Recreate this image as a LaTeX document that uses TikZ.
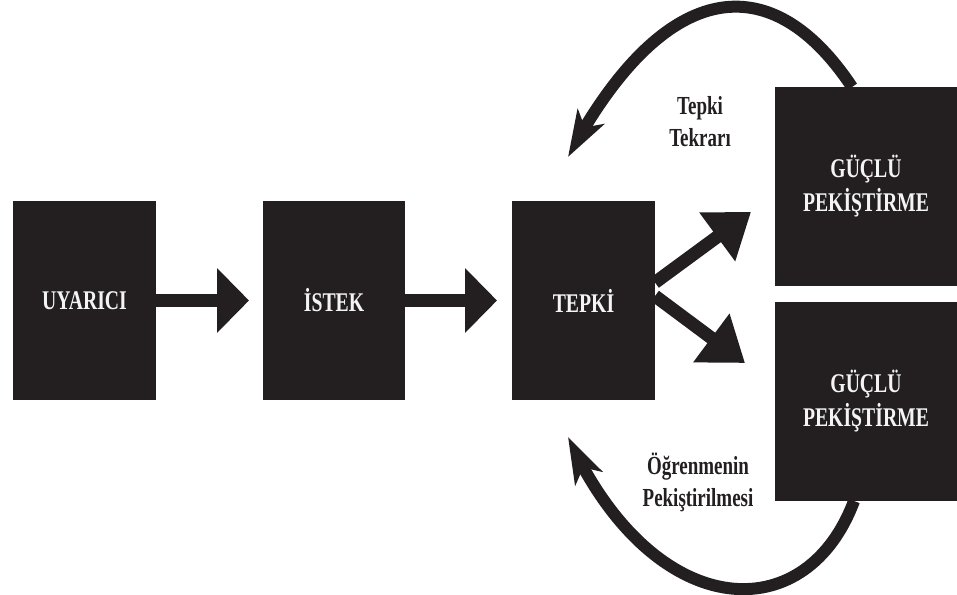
\documentclass[tikz,border=0pt]{standalone}
\usepackage{fontspec}
\setmainfont{Liberation Serif}
\newfontfamily\labfont[FakeStretch=0.73]{Liberation Serif}
\usetikzlibrary{arrows.meta,bending}
\definecolor{ink}{HTML}{231F20}
\definecolor{paper}{HTML}{F4F4F4}

\begin{document}
\begin{tikzpicture}[x=1pt,y=-1pt,
  block/.style={fill=ink, inner sep=0pt, outer sep=0pt, minimum height=199pt,
    text=paper, align=center, font=\labfont\bfseries\fontsize{27}{34}\selectfont},
  caption/.style={text=ink, inner sep=0pt, align=center,
    font=\labfont\bfseries\fontsize{26}{32}\selectfont},
  flow/.style={draw=ink, line width=13pt, -{Triangle[length=32pt,width=63pt]}},
  branch/.style={draw=ink, line width=13pt, -{Triangle[length=42pt,width=58pt]}},
  loop/.style={draw=ink, line width=12pt, -{Stealth[length=46pt,width=30pt,inset=12pt]}}]

  % canvas
  \fill[white] (0,0) rectangle (957,594);
  \useasboundingbox (0,0) rectangle (957,594);

  % main chain
  \node[block, minimum width=143pt] (u) at (84.5,300.5) {UYARICI};
  \node[block, minimum width=142pt] (i) at (334,300.5) {İSTEK};
  \node[block, minimum width=143pt] (t) at (583.5,300.5) {TEPKİ};

  % reinforcement boxes
  \node[block, minimum width=182pt] (g1) at (866,186.5) {GÜÇLÜ\\PEKİŞTİRME};
  \node[block, minimum width=182pt] (g2) at (866,401.5) {GÜÇLÜ\\PEKİŞTİRME};

  % loop captions
  \node[caption] (rep) at (700,122) {Tepki\\Tekrarı};
  \node[caption] (reinf) at (698,482) {Öğrenmenin\\Pekiştirilmesi};

  % straight arrows
  \draw[flow, shorten >=14pt] (u) -- (i);
  \draw[flow, shorten >=15pt] (i) -- (t);

  % branches out of the response
  \coordinate (upTip) at (751,212);
  \coordinate (downTip) at (745,363);
  \draw[branch] ([yshift=18pt]t.east) -- (upTip);
  \draw[branch] ([yshift=4.5pt]t.east) -- (downTip);

  % feedback loops
  \coordinate (topEnd) at (568,157);
  \coordinate (botEnd) at (568,437);
  \draw[loop] ([xshift=-14pt]g1.north) .. controls (769,-38) and (662,-19) .. (topEnd);
  \draw[loop] ([xshift=-12pt]g2.south) .. controls (805,632) and (652,622) .. (botEnd);
\end{tikzpicture}
\end{document}
